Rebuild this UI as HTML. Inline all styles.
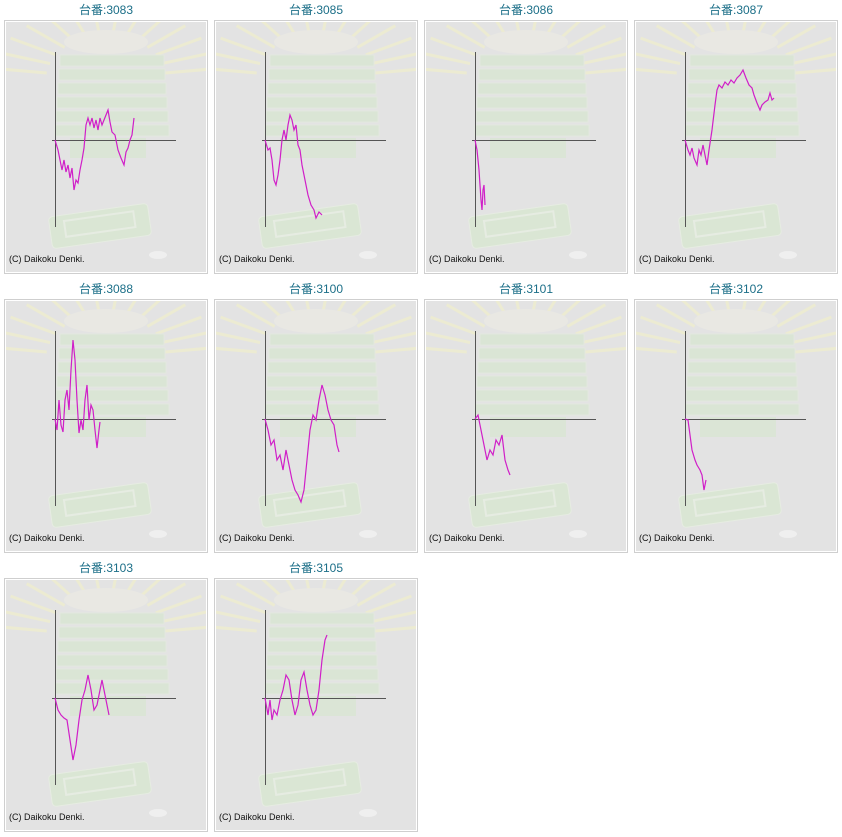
<!DOCTYPE html>
<html><head><meta charset="utf-8"><style>
html,body{margin:0;padding:0;background:#fff;width:842px;height:837px;overflow:hidden}
text{font-family:"Liberation Sans","Noto Sans CJK JP",sans-serif}
</style></head><body>
<svg id="s" width="842" height="837" xmlns="http://www.w3.org/2000/svg"></svg>
<script>
const S=document.getElementById('s');
const series=[
["3083",0,0,[[55,140],[58,150],[62,170],[64,160],[66,172],[68,165],[70,178],[72,168],[74,190],[76,180],[78,183],[80,170],[82,160],[84,148],[86,125],[88,118],[90,125],[92,118],[94,128],[96,120],[98,130],[100,118],[102,125],[104,120],[106,115],[108,110],[110,122],[112,132],[115,135],[118,150],[121,158],[124,165],[126,152],[128,148],[130,140],[132,135],[134,118]]],
["3085",1,0,[[265,140],[268,150],[270,148],[272,160],[274,180],[276,185],[278,175],[280,160],[282,140],[284,130],[286,140],[288,125],[290,115],[292,120],[294,130],[296,125],[298,145],[300,150],[302,165],[305,180],[308,195],[311,205],[314,210],[316,218],[319,212],[322,215]]],
["3086",2,0,[[475,140],[477,150],[479,170],[481,200],[482,210],[483,190],[484,185],[485,205]]],
["3087",3,0,[[685,140],[688,150],[690,155],[692,148],[694,158],[697,165],[699,150],[701,155],[703,145],[705,155],[707,165],[709,150],[712,130],[715,105],[717,90],[719,85],[722,88],[725,82],[728,85],[731,80],[734,83],[737,78],[740,75],[743,70],[746,78],[749,85],[752,88],[754,95],[757,103],[760,110],[762,105],[765,102],[768,100],[770,93],[772,100],[774,98]]],
["3088",0,1,[[55,419],[57,430],[59,400],[61,425],[63,432],[65,400],[67,390],[69,410],[71,370],[73,340],[75,360],[77,400],[79,433],[81,420],[83,430],[85,400],[87,385],[89,420],[91,405],[93,410],[95,430],[97,448],[99,430],[100,422]]],
["3100",1,1,[[265,419],[268,430],[271,445],[274,440],[277,460],[280,455],[283,470],[286,450],[289,465],[292,480],[295,490],[298,495],[301,502],[304,490],[307,460],[310,430],[313,415],[316,420],[319,400],[322,385],[325,395],[328,410],[331,420],[334,425],[337,445],[339,452]]],
["3101",2,1,[[475,419],[478,415],[481,430],[484,445],[487,460],[490,450],[493,455],[496,440],[499,445],[502,435],[505,460],[508,470],[510,475]]],
["3102",3,1,[[685,419],[688,420],[690,435],[692,450],[695,460],[697,465],[700,470],[702,475],[704,490],[706,480]]],
["3103",0,2,[[55,698],[58,710],[61,715],[64,718],[67,720],[70,740],[73,760],[76,745],[79,720],[82,700],[85,690],[88,675],[91,690],[94,710],[97,705],[100,690],[102,680],[104,690],[107,705],[109,715]]],
["3105",1,2,[[265,698],[268,715],[270,700],[272,720],[274,710],[277,715],[280,700],[283,690],[286,675],[289,680],[292,700],[295,715],[298,705],[301,680],[304,672],[307,690],[310,705],[313,715],[316,710],[319,690],[322,660],[325,640],[327,635]]]
];
let h='';
for(const [n,c,r,pts] of series){
 const ox=c*210, oy=r*279;
 h+=`<text x="${ox+106}" y="${oy+14}" text-anchor="middle" font-size="12" fill="#1c6f88">台番:${n}</text>`;
 h+=`<g transform="translate(${ox},${oy})">`;
 h+=`<rect x="4.5" y="20.5" width="203" height="253" fill="#fff" stroke="#cfcfcf"/>`;
 h+=`<svg x="6" y="22" width="200" height="250"><g transform="translate(-6,-22)">`;
 h+=`<rect x="6" y="22" width="200" height="250" fill="#e3e3e3"/>`;
 for(let i=0;i<14;i++){const a=Math.PI*(0.05+i*0.9/13);const cx=106,cy=80;
  h+=`<line x1="${cx-Math.cos(a)*60}" y1="${cy-Math.sin(a)*45}" x2="${cx-Math.cos(a)*115}" y2="${cy-Math.sin(a)*75}" stroke="#ecebd2" stroke-width="3"/>`;}
 h+=`<ellipse cx="106" cy="42" rx="42" ry="12" fill="#e9e8e3"/>`;
 for(let k=0;k<6;k++) h+=`<rect x="${60-k}" y="${55+k*14}" width="${104+2*k}" height="11" fill="#dae5d5" stroke="#e3e8df"/>`;
 h+=`<rect x="70" y="138" width="76" height="20" fill="#dbe5d6"/>`;
 h+=`<rect x="50" y="210" width="100" height="32" rx="4" fill="#dae6d4" stroke="#e6ece2" transform="rotate(-8 100 226)"/>`;
 h+=`<rect x="65" y="216" width="70" height="16" fill="none" stroke="#e6ece2" stroke-width="2" transform="rotate(-8 100 226)"/>`;
 h+=`<ellipse cx="158" cy="255" rx="9" ry="4" fill="#efefef"/>`;
 h+=`</g></svg>`;
 h+=`<line x1="55.5" y1="52" x2="55.5" y2="227" stroke="#555" stroke-width="1"/>`;
 h+=`<line x1="52" y1="140.5" x2="176" y2="140.5" stroke="#555" stroke-width="1"/>`;
 h+=`<text x="9" y="262" font-size="9" fill="#111">(C) Daikoku Denki.</text>`;
 h+=`</g>`;
 h+=`<polyline fill="none" stroke="#d01fc8" stroke-width="1.2" points="${pts.map(p=>p.join(',')).join(' ')}"/>`;
}
S.innerHTML=h;
</script>
</body></html>
